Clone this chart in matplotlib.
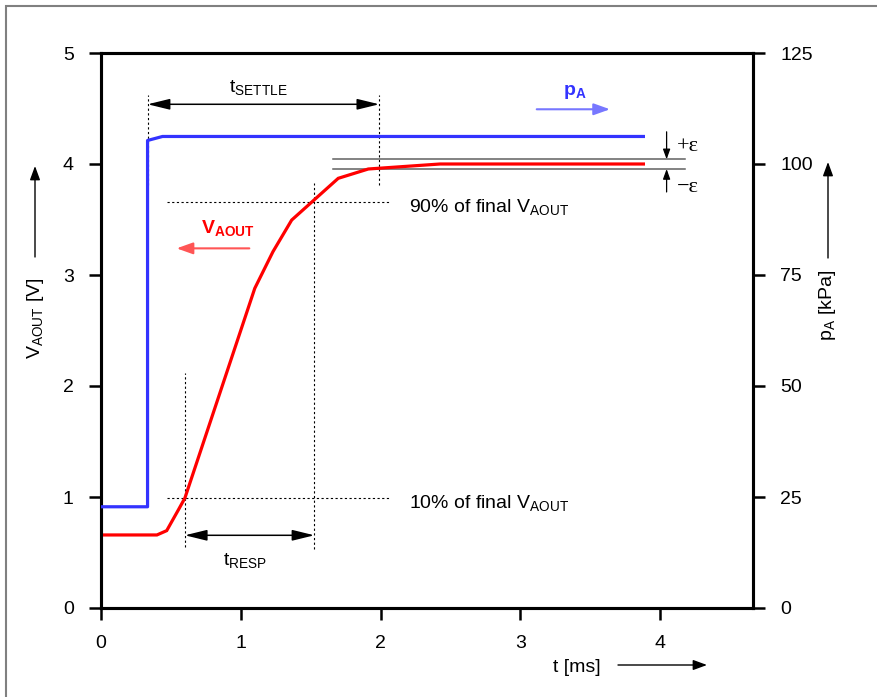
import matplotlib
matplotlib.use('Agg')
import matplotlib.pyplot as plt
from matplotlib.patches import Rectangle

plt.rcParams['font.family'] = ['Liberation Sans', 'DejaVu Sans']
plt.rcParams['mathtext.fontset'] = 'custom'
plt.rcParams['mathtext.rm'] = 'Liberation Sans'
plt.rcParams['mathtext.bf'] = 'Liberation Sans:bold'

# ---- data ----
t_vaout = [0, 0.40, 0.47, 0.553, 0.60, 1.10, 1.23, 1.364, 1.697, 1.912, 2.425, 3.88]
v_aout = [0.658, 0.658, 0.697, 0.883, 0.99, 2.88, 3.21, 3.495, 3.871, 3.955, 4.0, 4.0]
t_pa = [0, 0.333, 0.333, 0.44, 3.88]
p_a = [22.8, 22.8, 105.3, 106.2, 106.2]
x_ticks = [0, 1, 2, 3, 4]
v_ticks = [0, 1, 2, 3, 4, 5]
p_ticks = [0, 25, 50, 75, 100, 125]

# annotation reference values (in data units)
t_start, t_settle_end = 0.334, 1.99
t_10, t_90 = 0.60, 1.526
v_10, v_90 = 0.988, 3.66
eps_hi, eps_lo = 4.042, 3.955

W, H = 877, 697
fig = plt.figure(figsize=(W / 100, H / 100), dpi=100)
ax = fig.add_axes([101 / W, 1 - 608 / H, (753 - 101) / W, (608 - 53) / H])
ax2 = ax.twinx()

ax.set_xlim(0, 4.664)
ax.set_ylim(0, 5)
ax2.set_ylim(0, 125)
ax.set_xticks(x_ticks)
ax.set_yticks(v_ticks)
ax2.set_yticks(p_ticks)

for a in (ax, ax2):
    for s in a.spines.values():
        s.set_linewidth(2.2)
    a.tick_params(direction='out', length=8.6, width=1.8, pad=11, labelsize=14)

# curves
ax.plot(t_vaout, v_aout, color='#ff0000', lw=2.3, solid_joinstyle='miter', zorder=5)
ax2.plot(t_pa, p_a, color='#3333ff', lw=2.3, zorder=5)

dot = dict(color='black', lw=0.8, linestyle=(0, (2, 2.2)))
# t_SETTLE verticals
ax.plot([t_start, t_start], [3.81, 4.62], **dot)
ax.plot([t_settle_end, t_settle_end], [3.81, 4.62], **dot)
# 90 % / 10 % horizontals
ax.plot([0.47, 2.06], [v_90, v_90], **dot)
ax.plot([0.47, 2.06], [v_10, v_10], **dot)
# response verticals
ax.plot([t_90, t_90], [0.528, 3.826], **dot)
ax.plot([t_10, t_10], [0.546, 2.114], **dot)

# epsilon band
ax.plot([1.662, 4.177], [eps_hi, eps_hi], color='#606060', lw=1.1)
ax.plot([1.662, 4.177], [eps_lo, eps_lo], color='#606060', lw=1.1)
small = dict(arrowstyle='-|>,head_length=0.5,head_width=0.18', color='black', lw=0.9,
             shrinkA=0, shrinkB=0, mutation_scale=12)
ax.annotate('', xy=(4.046, eps_hi), xytext=(4.046, 4.29), arrowprops=small)
ax.annotate('', xy=(4.046, eps_lo), xytext=(4.046, 3.748), arrowprops=small)
ax.text(4.12, 4.156, '+ε', fontsize=16, va='center', ha='left', family='Liberation Serif')
ax.text(4.12, 3.784, '−ε', fontsize=16, va='center', ha='left', family='Liberation Serif')

# double arrows
dbl = dict(arrowstyle='<|-|>,head_length=0.9,head_width=0.22', color='black', lw=1.1,
           shrinkA=0, shrinkB=0, mutation_scale=15)
ax.annotate('', xy=(t_start, 4.538), xytext=(t_settle_end, 4.538), arrowprops=dbl)
ax.annotate('', xy=(t_10, 0.655), xytext=(t_90, 0.655), arrowprops=dbl)
ax.text(1.123, 4.685, r'$\mathregular{t_{SETTLE}}$', fontsize=14, ha='center', va='center')
ax.text(1.03, 0.432, r'$\mathregular{t_{RESP}}$', fontsize=14, ha='center', va='center')

ax.text(2.203, 3.57, r'90% of final $\mathregular{V_{AOUT}}$', fontsize=14, ha='left', va='baseline')
ax.text(2.203, 0.898, r'10% of final $\mathregular{V_{AOUT}}$', fontsize=14, ha='left', va='baseline')

# series labels with pointer arrows
ax.text(0.713, 3.376, r'$\mathbf{V_{AOUT}}$', fontsize=14, color='#ff0000', ha='left', va='baseline')
ax.annotate('', xy=(0.541, 3.24), xytext=(1.061, 3.24),
            arrowprops=dict(arrowstyle='-|>,head_length=0.7,head_width=0.25', color='#ff5555',
                            lw=1.5, shrinkA=0, shrinkB=0, mutation_scale=14))
ax.text(3.305, 4.62, r'$\mathbf{p_{A}}$', fontsize=14, color='#3333ff', ha='left', va='baseline')
ax.annotate('', xy=(3.641, 4.493), xytext=(3.117, 4.493),
            arrowprops=dict(arrowstyle='-|>,head_length=0.7,head_width=0.25', color='#7777ff',
                            lw=1.5, shrinkA=0, shrinkB=0, mutation_scale=14))

# axis labels with arrows (figure pixel positions)
def fp(x, y):
    return (x, H - y)

ax_arrow = dict(arrowstyle='-|>,head_length=0.6,head_width=0.22', color='black', lw=1.0,
                shrinkA=0, shrinkB=0, mutation_scale=14)
fig.text(35 / W, 1 - 318 / H, r'$\mathregular{V_{AOUT}}$ [V]', rotation=90, fontsize=14,
         ha='center', va='center')
ax.annotate('', xy=fp(35, 166), xytext=fp(35, 257), xycoords='figure pixels',
            textcoords='figure pixels', arrowprops=ax_arrow, annotation_clip=False)
fig.text(828 / W, 1 - 305 / H, r'$\mathregular{p_{A}}$ [kPa]', rotation=90, fontsize=14,
         ha='center', va='center')
ax.annotate('', xy=fp(828, 162), xytext=fp(828, 258), xycoords='figure pixels',
            textcoords='figure pixels', arrowprops=ax_arrow, annotation_clip=False)
fig.text(577 / W, 1 - 668 / H, 't [ms]', fontsize=14, ha='center', va='center')
ax.annotate('', xy=fp(707, 665), xytext=fp(618, 665), xycoords='figure pixels',
            textcoords='figure pixels', arrowprops=ax_arrow, annotation_clip=False)

# outer frame
fig.patches.append(Rectangle((6 / W, -0.05), 1.2, 1 - 6 / H + 0.05, transform=fig.transFigure,
                             fill=False, edgecolor='#808080', lw=1.5))

fig.savefig('out.png', dpi=100)
